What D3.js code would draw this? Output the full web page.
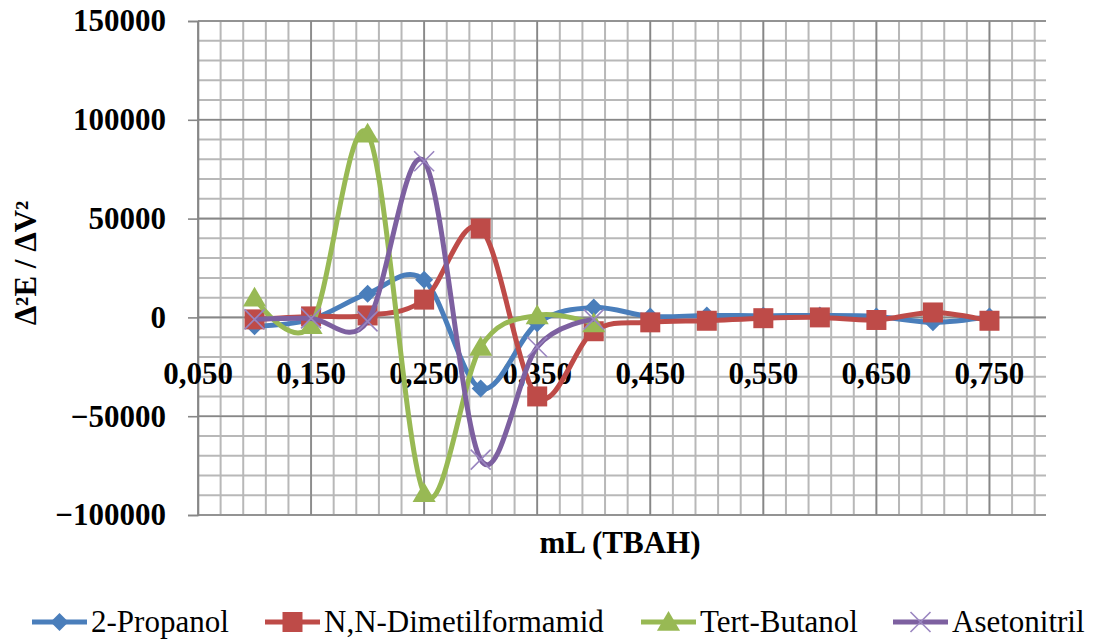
<!DOCTYPE html>
<meta charset="utf-8">
<body style="margin:0">
<svg width="1099" height="644" font-family="Liberation Serif"></svg>
<script src="https://cdnjs.cloudflare.com/ajax/libs/d3/7.8.5/d3.min.js"></script>
<script>

// volumes (mL TBAH)
var xValues = [0.10, 0.15, 0.20, 0.25, 0.30, 0.35, 0.40, 0.45, 0.50, 0.55, 0.60, 0.65, 0.70, 0.75];

// second derivative values per solvent
var propanol    = [-4500, -1000, 12000, 19000, -36000, -3000, 5000, 500, 1000, 800, 1000, 500, -2500, 500];
var dmf         = [-1000, 500, 1000, 9000, 45000, -40000, -7000, -2500, -1700, -400, 0, -1300, 2500, -1700];
var tertButanol = [10000, -4000, 93000, -89000, -15000, 1000, -3000];
var asetonitril = [-1000, -500, -2000, 79000, -72000, -15000, -1000];

var seriesNames = ["2-Propanol", "N,N-Dimetilformamid", "Tert-Butanol", "Asetonitril"];
var yTicks = [-100000, -50000, 0, 50000, 100000, 150000];
var xTicks = [0.05, 0.15, 0.25, 0.35, 0.45, 0.55, 0.65, 0.75];

var svg = d3.select("svg");

var x = d3.scaleLinear().domain([0.05, 0.80]).range([198, 1046]);
var y = d3.scaleLinear().domain([-100000, 150000]).range([515, 21]);

// minor grid
var minorX = d3.range(0, 38).map(function(i) { return 0.05 + i * 0.02; });
var minorY = d3.range(-100000, 150001, 10000);

var gMinor = svg.append("g").attr("stroke", "#b8b8b8").attr("stroke-width", 2);
gMinor.selectAll(".vx").data(minorX).enter().append("line")
    .attr("x1", function(d) { return x(d); })
    .attr("x2", function(d) { return x(d); })
    .attr("y1", y(150000)).attr("y2", y(-100000));
gMinor.selectAll(".hy").data(minorY).enter().append("line")
    .attr("x1", x(0.05)).attr("x2", x(0.80))
    .attr("y1", function(d) { return y(d); })
    .attr("y2", function(d) { return y(d); });

// major grid
var gMajor = svg.append("g").attr("stroke", "#878787").attr("stroke-width", 1.6);
gMajor.selectAll(".vx").data(xTicks).enter().append("line")
    .attr("x1", function(d) { return x(d); })
    .attr("x2", function(d) { return x(d); })
    .attr("y1", y(150000)).attr("y2", y(-100000));
gMajor.selectAll(".hy").data(yTicks).enter().append("line")
    .attr("x1", x(0.05)).attr("x2", x(0.80))
    .attr("y1", function(d) { return y(d); })
    .attr("y2", function(d) { return y(d); });

// y axis
var yAxis = d3.axisLeft(y).tickValues(yTicks).tickSize(10).tickPadding(22)
    .tickFormat(d3.format("d"));
var gy = svg.append("g").attr("transform", "translate(198,0)").call(yAxis)
    .attr("font-family", "Liberation Serif").attr("font-size", 31);
gy.select(".domain").attr("stroke", "#878787").attr("stroke-width", 1.6);
gy.selectAll(".tick line").attr("stroke", "#878787").attr("stroke-width", 1.6);
gy.selectAll(".tick text").attr("fill", "#000").attr("font-weight", "bold");

// x tick labels, sitting below the zero line
var fmt = d3.format(".3f");
svg.append("g").selectAll("text").data(xTicks).enter().append("text")
    .attr("x", function(d) { return x(d); })
    .attr("y", 384)
    .attr("text-anchor", "middle")
    .attr("font-size", 31).attr("font-weight", "bold")
    .text(function(d) { return fmt(d).replace(".", ","); });

// axis titles
svg.append("text")
    .attr("transform", "translate(36,263) rotate(-90)")
    .attr("text-anchor", "middle")
    .attr("font-size", 31).attr("font-weight", "bold")
    .text("\u0394\u00b2E / \u0394V\u00b2");

svg.append("text")
    .attr("x", 620).attr("y", 553)
    .attr("text-anchor", "middle")
    .attr("font-size", 31).attr("font-weight", "bold")
    .text("mL (TBAH)");

// markers
function diamond(s) { return "M0," + (-s) + "L" + s + ",0L0," + s + "L" + (-s) + ",0Z"; }
function square(s) { return "M" + (-s) + "," + (-s) + "h" + (2 * s) + "v" + (2 * s) + "h" + (-2 * s) + "Z"; }
function triangle(s) { return "M0," + (-s) + "L" + (s * 1.05) + "," + (s * 0.8) + "L" + (-s * 1.05) + "," + (s * 0.8) + "Z"; }
function cross(s) { return "M" + (-s) + "," + (-s) + "L" + s + "," + s + "M" + s + "," + (-s) + "L" + (-s) + "," + s; }

var series = [
  { name: seriesNames[0], values: propanol, color: "#4a7ebb", marker: diamond(9), fill: "#4a7ebb", markStroke: "none", mw: 0 },
  { name: seriesNames[1], values: dmf, color: "#be4b48", marker: square(10), fill: "#be4b48", markStroke: "none", mw: 0 },
  { name: seriesNames[2], values: tertButanol, color: "#98b954", marker: triangle(11), fill: "#98b954", markStroke: "none", mw: 0 },
  { name: seriesNames[3], values: asetonitril, color: "#7d60a0", marker: cross(10), fill: "none", markStroke: "#9a85c0", mw: 1.6 }
];

var line = d3.line()
    .x(function(d) { return x(d[0]); })
    .y(function(d) { return y(d[1]); })
    .curve(d3.curveCardinal.tension(0));

var plot = svg.append("g");
series.forEach(function(s) {
  var pts = s.values.map(function(v, i) { return [xValues[i], v]; });
  plot.append("path")
      .datum(pts)
      .attr("d", line)
      .attr("fill", "none")
      .attr("stroke", s.color)
      .attr("stroke-width", 5)
      .attr("stroke-linejoin", "round");
  plot.append("g").selectAll("path").data(pts).enter().append("path")
      .attr("transform", function(d) { return "translate(" + x(d[0]) + "," + y(d[1]) + ")"; })
      .attr("d", s.marker)
      .attr("fill", s.fill)
      .attr("stroke", s.markStroke)
      .attr("stroke-width", s.mw);
});

// legend
var legendX = [32, 265, 641, 893];
var legend = svg.append("g");
series.forEach(function(s, i) {
  var lx = legendX[i];
  legend.append("line")
      .attr("x1", lx).attr("x2", lx + 55)
      .attr("y1", 622).attr("y2", 622)
      .attr("stroke", s.color).attr("stroke-width", 5);
  legend.append("path")
      .attr("transform", "translate(" + (lx + 27.5) + ",622)")
      .attr("d", s.marker)
      .attr("fill", s.fill)
      .attr("stroke", s.markStroke)
      .attr("stroke-width", s.mw);
  legend.append("text")
      .attr("x", lx + 59).attr("y", 632)
      .attr("font-size", 31)
      .text(s.name);
});

</script>
</body>
